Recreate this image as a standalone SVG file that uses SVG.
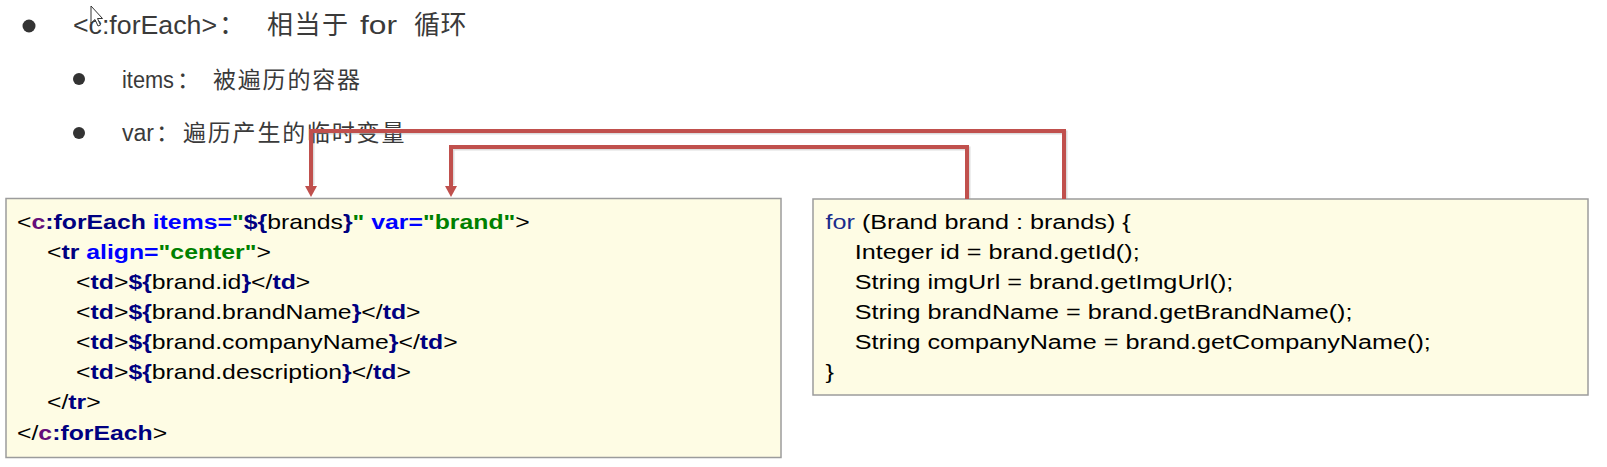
<svg xmlns="http://www.w3.org/2000/svg" width="1607" height="467" viewBox="0 0 1607 467">
<defs>
<style>
.hd{font-family:"Liberation Sans","Noto Sans CJK SC",sans-serif;fill:#3a3a3a}
.h1{font-size:26px}
.h2{font-size:23px}
.code{font-family:"Liberation Sans",Arial,sans-serif;font-size:20px;fill:#000}
.java{font-family:"Liberation Sans",Arial,sans-serif;font-size:21px;fill:#000}
.tag{fill:#000080;font-weight:bold}
.ns{fill:#660E7A;font-weight:bold}
.att{fill:#0000FF;font-weight:bold}
.val{fill:#008000;font-weight:bold}
.kw{fill:#1A2C8C}
.box{fill:#FEFCE4;stroke:#9c9c9c;stroke-width:1.5}
.conn{fill:none;stroke:#C0504D;stroke-width:4;stroke-linejoin:miter}
.shadow{fill:none;stroke:#9a9a9a;stroke-opacity:0.35;stroke-width:4}
</style>
<marker id="arr" markerWidth="12" markerHeight="12" viewBox="0 0 12 12" refX="0" refY="6" orient="auto" markerUnits="userSpaceOnUse">
<path d="M0,0 L11,6 L0,12 Z" fill="#C0504D"/>
</marker>
</defs>
<rect width="1607" height="467" fill="#ffffff"/>

<g id="header">
<circle cx="29" cy="26" r="6.5" fill="#333"/>
<text class="hd h1" x="73" y="34" textLength="144" lengthAdjust="spacingAndGlyphs">&lt;c:forEach&gt;</text>
<text class="hd h1" x="219" y="34">：</text>
<text class="hd h1" x="267" y="34" letter-spacing="1.5">相当于</text>
<text class="hd h1" x="360" y="34" textLength="37" lengthAdjust="spacingAndGlyphs">for</text>
<text class="hd h1" x="414" y="34" letter-spacing="0.5">循环</text>

<circle cx="79" cy="79" r="6" fill="#333"/>
<text class="hd h2" x="122" y="88" textLength="52" lengthAdjust="spacingAndGlyphs">items</text>
<text class="hd h2" x="177" y="88">：</text>
<text class="hd h2" x="213" y="88" letter-spacing="1.8">被遍历的容器</text>

<circle cx="79" cy="133" r="6" fill="#333"/>
<text class="hd h2" x="122" y="141" textLength="32" lengthAdjust="spacingAndGlyphs">var</text>
<text class="hd h2" x="156" y="141">：</text>
<text class="hd h2" x="183" y="141" letter-spacing="1.8">遍历产生的临时变量</text>
</g>

<g id="cursor">
<path d="M91,6 L91,23 L95,19.5 L98,26 L100.5,25 L97.5,18.5 L102.5,18.5 Z" fill="#fff" stroke="#333" stroke-width="1"/>
</g>

<g id="jsp-box">
<rect class="box" x="6" y="198.5" width="775" height="259"/>
<g transform="translate(17,0) scale(1.24,1)">
<text class="code" x="0" y="229">&lt;<tspan class="ns">c</tspan><tspan class="tag">:forEach</tspan><tspan class="att"> items=</tspan><tspan class="val">"</tspan><tspan class="tag">${</tspan>brands<tspan class="tag">}</tspan><tspan class="val">"</tspan><tspan class="att"> var=</tspan><tspan class="val">"brand"</tspan>&gt;</text>
<text class="code" x="24.2" y="259">&lt;<tspan class="tag">tr</tspan><tspan class="att"> align=</tspan><tspan class="val">"center"</tspan>&gt;</text>
<text class="code" x="47.6" y="289">&lt;<tspan class="tag">td</tspan>&gt;<tspan class="tag">${</tspan>brand.id<tspan class="tag">}</tspan>&lt;/<tspan class="tag">td</tspan>&gt;</text>
<text class="code" x="47.6" y="319">&lt;<tspan class="tag">td</tspan>&gt;<tspan class="tag">${</tspan>brand.brandName<tspan class="tag">}</tspan>&lt;/<tspan class="tag">td</tspan>&gt;</text>
<text class="code" x="47.6" y="349">&lt;<tspan class="tag">td</tspan>&gt;<tspan class="tag">${</tspan>brand.companyName<tspan class="tag">}</tspan>&lt;/<tspan class="tag">td</tspan>&gt;</text>
<text class="code" x="47.6" y="379">&lt;<tspan class="tag">td</tspan>&gt;<tspan class="tag">${</tspan>brand.description<tspan class="tag">}</tspan>&lt;/<tspan class="tag">td</tspan>&gt;</text>
<text class="code" x="24.2" y="409">&lt;/<tspan class="tag">tr</tspan>&gt;</text>
<text class="code" x="0" y="440">&lt;/<tspan class="ns">c</tspan><tspan class="tag">:forEach</tspan>&gt;</text>
</g>
</g>

<g id="java-box">
<rect class="box" x="813" y="199" width="775" height="196"/>
<g transform="translate(825.5,0) scale(1.2,1)">
<text class="java" x="0" y="229"><tspan class="kw">for</tspan> (Brand brand : brands) {</text>
<text class="java" x="24.3" y="259">Integer id = brand.getId();</text>
<text class="java" x="24.3" y="289">String imgUrl = brand.getImgUrl();</text>
<text class="java" x="24.3" y="319">String brandName = brand.getBrandName();</text>
<text class="java" x="24.3" y="349">String companyName = brand.getCompanyName();</text>
<text class="java" x="0" y="379">}</text>
</g>
</g>

<g id="connectors">
<path class="shadow" d="M1065.5,199 V132.5 H312.5 V185"/>
<path class="shadow" d="M968.5,199 V148.5 H452.5 V185"/>
<path class="conn" d="M1064,199 V131 H311 V186" marker-end="url(#arr)"/>
<path class="conn" d="M967,199 V147 H451 V186" marker-end="url(#arr)"/>
</g>
</svg>
